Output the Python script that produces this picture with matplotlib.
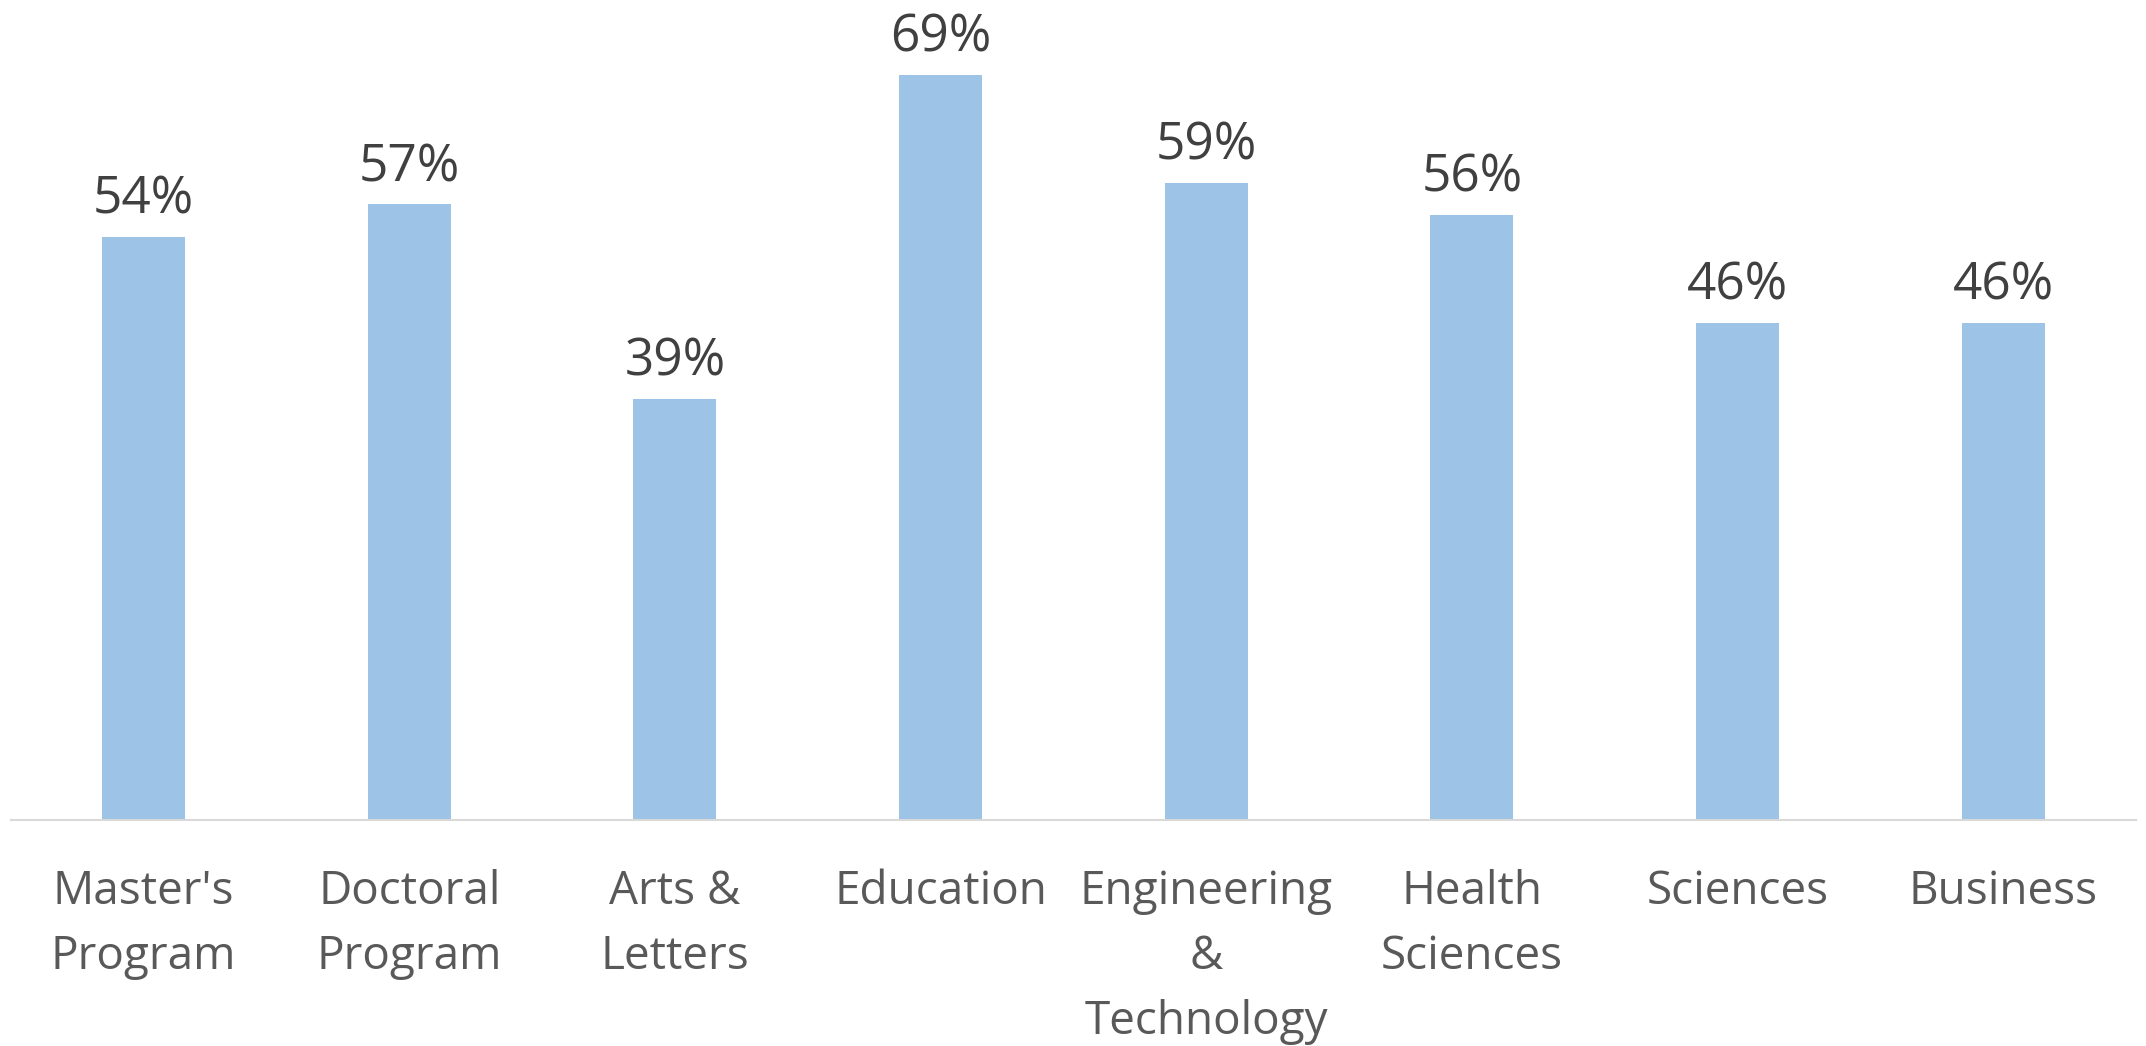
import matplotlib
matplotlib.use("Agg")
import matplotlib.pyplot as plt

categories = ["Master's\nProgram", "Doctoral\nProgram", "Arts &\nLetters", "Education",
              "Engineering\n&\nTechnology", "Health\nSciences", "Sciences", "Business"]
values = [54, 57, 39, 69, 59, 56, 46, 46]
value_labels = ["54%", "57%", "39%", "69%", "59%", "56%", "46%", "46%"]

plt.rcParams['font.family'] = ['Open Sans', 'DejaVu Sans']

fig = plt.figure(figsize=(21.46, 10.46), dpi=100)
ax = fig.add_axes([0.005, 0.216, 0.9903, 0.784])

x = range(len(categories))
bars = ax.bar(x, values, width=0.312, color="#9DC3E6")

for b, lab in zip(bars, value_labels):
    ax.annotate(lab, (b.get_x() + b.get_width() / 2, b.get_height()),
                xytext=(0, 8), textcoords="offset points",
                ha="center", va="bottom", fontsize=37, color="#404040")

ax.set_xlim(-0.5, len(categories) - 0.5)
ax.set_ylim(0, 75.9)
ax.set_xticks(list(x))
ax.set_xticklabels(categories, fontsize=33, color="#595959", linespacing=1.55)
ax.tick_params(axis="x", length=0, pad=35)
ax.set_yticks([])

for s in ["top", "right", "left"]:
    ax.spines[s].set_visible(False)
ax.spines["bottom"].set_color("#D9D9D9")
ax.spines["bottom"].set_linewidth(1.5)

fig.savefig("out.png", dpi=100)
